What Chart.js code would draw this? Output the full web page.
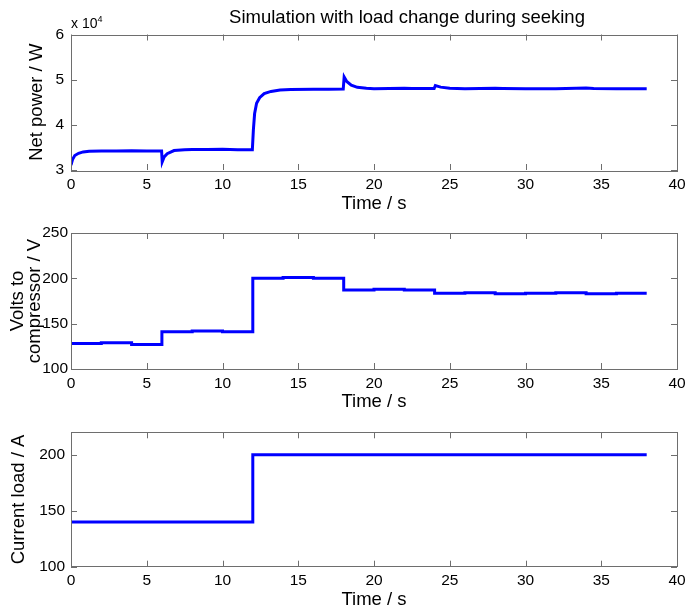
<!DOCTYPE html>
<html lang="en">
<head>
  <meta charset="UTF-8">
  <title>Simulation with load change during seeking</title>
  <style>
    body {
      margin: 0;
      background: #fff;
      font-family: 'Liberation Sans', Arial, sans-serif;
      color: #000;
    }

    #wrap {
      position: relative;
      width: 696px;
      height: 613px;
      overflow: hidden;
    }

    canvas {
      position: absolute;
      left: 0;
    }

    .title {
      position: absolute;
      top: 7px;
      left: 107px;
      width: 600px;
      text-align: center;
      font-size: 18.5px;
      line-height: 20px;
    }

    .exp {
      position: absolute;
      top: 15px;
      left: 71px;
      font-size: 14px;
      line-height: 16px;
    }

    .exp sup {
      font-size: 9px;
      vertical-align: 6px;
      line-height: 0;
    }
  </style>
</head>
<body>
  <div id="wrap">
    <canvas id="power" width="696" height="215" style="top:0px"></canvas>
    <canvas id="volts" width="696" height="215" style="top:198px"></canvas>
    <canvas id="load" width="696" height="215" style="top:398px"></canvas>
    <div class="title">Simulation with load change during seeking</div>
    <div class="exp">x 10<sup>4</sup></div>
  </div>

  <script src="https://cdn.jsdelivr.net/npm/chart.js"></script>
  <script>
    // net power (W) vs time (s)
    const powerTime = [0, 0.1, 0.25, 0.5, 0.8, 1.2, 2, 3, 4, 5, 5.98, 6.02, 6.15, 6.35, 6.8, 7.5, 8, 9, 10, 11, 11.97,
      12.04, 12.12, 12.25, 12.45, 12.75, 13.2, 13.8, 14.5, 16, 17, 17.97, 18.03, 18.2, 18.5, 18.9, 19.5, 20, 22, 22.5,
      23.97, 24.05, 24.4, 25, 26, 28, 28.5, 30, 32, 34, 34.5, 36, 38];
    const powerW = [31100, 32300, 33200, 33700, 34000, 34150, 34200, 34200, 34250, 34200, 34200, 31800, 32900, 33600, 34300, 34500, 34550, 34550, 34600, 34500, 34500,
      39000, 42500, 44800, 46000, 46900, 47400, 47700, 47800, 47900, 47900, 47950, 50600, 49600, 48800, 48300, 48100, 48000, 48100, 48050,
      48050, 48700, 48350, 48100, 48000, 48100, 48050, 48000, 48000, 48150, 48050, 48000, 48000];

    // volts to compressor, held for 2 s each
    const voltTime = [0, 2, 4, 6, 8, 10, 12, 14, 16, 18, 20, 22, 24, 26, 28, 30, 32, 34, 36, 38];
    const voltValue = [128, 129, 127, 141, 142, 141, 200, 201, 200, 187, 188, 187, 183.5, 184, 183, 183.5, 184, 183, 183.5, 183.5];

    // current load step
    const loadTime = [0, 12, 38];
    const loadValue = [140, 200, 200];

    Chart.defaults.font.family = "'Liberation Sans', Arial, sans-serif";
    Chart.defaults.color = '#000';

    // matlab style box with inward ticks
    const boxPlugin = {
      id: 'box',
      afterDraw(chart) {
        const { ctx, chartArea: a, scales: { x, y } } = chart;
        ctx.save();
        ctx.strokeStyle = '#6e6e6e';
        ctx.lineWidth = 1;
        ctx.beginPath();
        x.ticks.forEach(t => {
          const px = Math.round(x.getPixelForValue(t.value)) + 0.5;
          ctx.moveTo(px, a.bottom); ctx.lineTo(px, a.bottom - 6);
          ctx.moveTo(px, a.top); ctx.lineTo(px, a.top + 6);
        });
        y.ticks.forEach(t => {
          const py = Math.round(y.getPixelForValue(t.value)) + 0.5;
          ctx.moveTo(a.left, py); ctx.lineTo(a.left + 6, py);
          ctx.moveTo(a.right, py); ctx.lineTo(a.right - 6, py);
        });
        ctx.stroke();
        ctx.strokeRect(Math.round(a.left) + 0.5, Math.round(a.top) + 0.5, Math.round(a.width), Math.round(a.height));
        ctx.restore();
      }
    };

    function makeChart(id, xs, ys, o) {
      new Chart(document.getElementById(id), {
        type: 'line',
        data: {
          datasets: [{
            data: xs.map((t, i) => ({ x: t, y: ys[i] })),
            borderColor: '#0000ff',
            borderWidth: 3,
            pointRadius: 0,
            stepped: o.stepped,
            tension: 0,
            fill: false
          }]
        },
        options: {
          responsive: false,
          animation: false,
          events: [],
          layout: { padding: { top: o.padTop, right: 19, bottom: 0, left: 0 } },
          plugins: { legend: { display: false }, tooltip: { enabled: false } },
          scales: {
            x: {
              type: 'linear',
              min: 0,
              max: 40,
              grid: { display: false, drawTicks: false },
              border: { display: false },
              ticks: { stepSize: 5, padding: 5, maxRotation: 0, font: { size: 15.5 } },
              title: { display: true, text: 'Time / s', font: { size: 18.5 }, padding: { top: 0, bottom: o.xTitlePad } },
              afterFit(s) { s.height = o.xHeight; s.paddingLeft = 0; s.paddingRight = 0; }
            },
            y: {
              min: o.yMin,
              max: o.yMax,
              grid: { display: false, drawTicks: false },
              border: { display: false },
              ticks: {
                stepSize: o.yStep,
                includeBounds: false,
                padding: o.yTickPad,
                font: { size: 15.5 },
                callback: o.yFmt || (v => v)
              },
              title: { display: true, text: o.yTitle, font: { size: 18.5, lineHeight: o.yLine }, padding: { top: o.yTitlePad, bottom: 0 } },
              afterFit(s) { s.width = 71; s.paddingTop = 0; s.paddingBottom = 0; }
            }
          }
        },
        plugins: [boxPlugin]
      });
    }

    makeChart('power', powerTime, powerW, {
      stepped: false, padTop: 34.5, xHeight: 45, xTitlePad: 0,
      yMin: 30000, yMax: 60000, yStep: 10000, yFmt: v => v / 10000, yTickPad: 7,
      yTitle: 'Net power / W', yLine: 1.2, yTitlePad: 26
    });

    makeChart('volts', voltTime, voltValue, {
      stepped: true, padTop: 35, xHeight: 44, xTitlePad: 0,
      yMin: 100, yMax: 250, yStep: 50, yTickPad: 3,
      yTitle: ['Volts to', 'compressor / V'], yLine: 0.9, yTitlePad: 10
    });

    makeChart('load', loadTime, loadValue, {
      stepped: true, padTop: 34.3, xHeight: 46.3, xTitlePad: 2,
      yMin: 100, yMax: 220, yStep: 50, yTickPad: 6,
      yTitle: 'Current load / A', yLine: 1.2, yTitlePad: 8
    });
  </script>
</body>
</html>
